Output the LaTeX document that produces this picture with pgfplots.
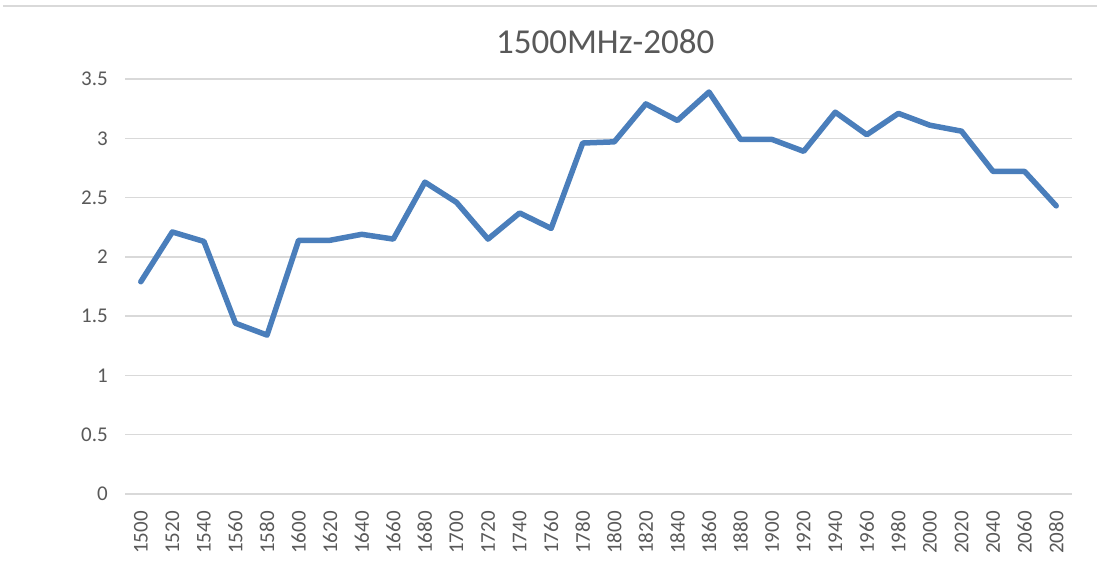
\documentclass[border=0pt]{standalone}
\usepackage{pgfplots}
\pgfplotsset{compat=1.18}
\usepackage{fontspec}
\setmainfont{Carlito}
\definecolor{linec}{HTML}{4A7EBB}
\definecolor{gridc}{HTML}{D9D9D9}
\definecolor{textc}{HTML}{595959}
\begin{document}
\begin{tikzpicture}
\useasboundingbox (0,0) rectangle (1097bp,563bp);
\draw[gridc, line width=1.5bp] (3bp,557bp) -- (1097bp,557bp);
\begin{axis}[
  at={(125bp,69bp)}, anchor=south west,
  scale only axis, width=947bp, height=415bp,
  xmin=-0.5, xmax=29.5, ymin=0, ymax=3.5,
  xtick={0,...,29},
  xticklabels={1500,1520,1540,1560,1580,1600,1620,1640,1660,1680,1700,1720,1740,1760,1780,1800,1820,1840,1860,1880,1900,1920,1940,1960,1980,2000,2020,2040,2060,2080},
  x tick label style={rotate=90, anchor=east, font=\fontsize{21bp}{24bp}\selectfont, text=textc, inner sep=0pt},
  ytick={0,0.5,1,1.5,2,2.5,3,3.5},
  yticklabels={0,0.5,1,1.5,2,2.5,3,3.5},
  y tick label style={font=\fontsize{21bp}{24bp}\selectfont, text=textc, inner sep=0pt},
  xticklabel shift=17bp, yticklabel shift=17bp,
  major tick length=0pt,
  ymajorgrids, grid style={gridc, line width=1.5bp},
  axis x line*=bottom, axis y line*=left,
  x axis line style={gridc, line width=1.5bp, -},
  y axis line style={draw=none},
  title={1500MHz-2080},
  title style={font=\fontsize{35bp}{40bp}\selectfont, text=textc, at={(0.507,1)}, anchor=south, yshift=16bp},
  clip=false,
]
\addplot[linec, line width=5.5bp, line join=round, line cap=round] coordinates {
(0,1.79) (1,2.21) (2,2.13) (3,1.44) (4,1.34) (5,2.14) (6,2.14) (7,2.19) (8,2.15) (9,2.63)
(10,2.46) (11,2.15) (12,2.37) (13,2.24) (14,2.96) (15,2.97) (16,3.29) (17,3.15) (18,3.39) (19,2.99)
(20,2.99) (21,2.89) (22,3.22) (23,3.03) (24,3.21) (25,3.11) (26,3.06) (27,2.72) (28,2.72) (29,2.43)
};
\end{axis}
\end{tikzpicture}
\end{document}
